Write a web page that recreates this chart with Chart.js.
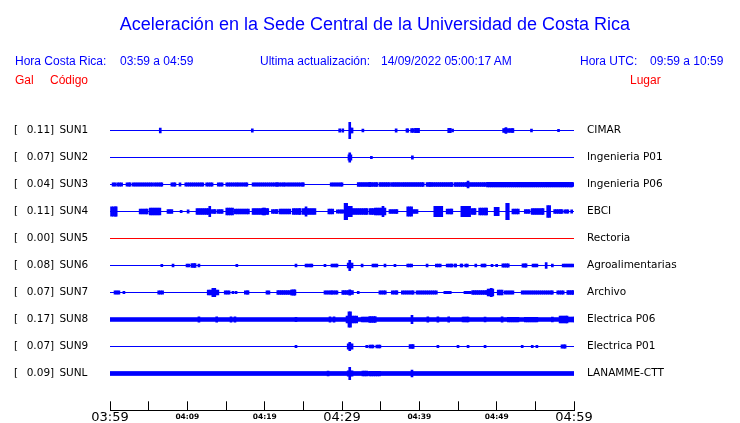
<!DOCTYPE html>
<html lang="es">
<head>
<meta charset="utf-8">
<title>Aceleración en la Sede Central</title>
<script src="https://cdn.jsdelivr.net/npm/chart.js@4"></script>
<style>
  html, body { margin: 0; background: #fff; overflow: hidden; }
  #wrap { position: relative; width: 740px; height: 423px; overflow: hidden; font-family: "Liberation Sans", Arial, sans-serif; }
  #wrap canvas { position: absolute; left: 0; top: 0; }
  .txt { position: absolute; white-space: pre; font-size: 12px; line-height: 12px; color: #0000ff; }
  .red { color: #ff0000; }
  #title { left: 0; width: 750px; text-align: center; top: 15px; font-size: 18px; line-height: 18px; }
</style>
</head>
<body>
<div id="wrap">
  <canvas id="seis" width="740" height="430"></canvas>
  <div id="title" class="txt">Aceleración en la Sede Central de la Universidad de Costa Rica</div>
  <div class="txt" style="left:15px;top:55px">Hora Costa Rica:</div>
  <div class="txt" style="left:120px;top:55px">03:59 a 04:59</div>
  <div class="txt" style="left:260px;top:55px">Ultima actualización:</div>
  <div class="txt" style="left:381px;top:55px">14/09/2022 05:00:17 AM</div>
  <div class="txt" style="left:580px;top:55px">Hora UTC:</div>
  <div class="txt" style="left:650px;top:55px">09:59 a 10:59</div>
  <div class="txt red" style="left:15px;top:74px">Gal</div>
  <div class="txt red" style="left:50px;top:74px">Código</div>
  <div class="txt red" style="left:630px;top:74px">Lugar</div>
</div>

<script>
  // stations, top to bottom
  const codes = ['SUN1', 'SUN2', 'SUN3', 'SUN4', 'SUN5', 'SUN6', 'SUN7', 'SUN8', 'SUN9', 'SUNL'];
  const gal = [0.11, 0.07, 0.04, 0.11, 0.00, 0.08, 0.07, 0.17, 0.07, 0.09];
  const places = ['CIMAR', 'Ingenieria P01', 'Ingenieria P06', 'EBCI', 'Rectoria',
    'Agroalimentarias', 'Archivo', 'Electrica P06', 'Electrica P01', 'LANAMME-CTT'];
  // steady background noise (half width, in trace spacings)
  const noise = [0, 0, 0, 0, 0, 0, 0, 0.063, 0, 0.067];
  const tickTimes = ['03:59', '04:04', '04:09', '04:14', '04:19', '04:24', '04:29',
    '04:34', '04:39', '04:44', '04:49', '04:54', '04:59'];

  // bursts: [start minute, end minute, half amplitude] (minutes after 03:59)
  const sun1 = [[6.5, 6.5, 0.09], [18.4, 18.4, 0.06], [29.7, 29.7, 0.06], [30.1, 30.2, 0.06],
    [31.0, 31.0, 0.30], [31.2, 31.3, 0.09], [32.7, 32.7, 0.05], [37.0, 37.0, 0.06],
    [38.4, 38.5, 0.06], [39.0, 39.2, 0.07], [39.5, 39.9, 0.08], [43.8, 44.0, 0.08],
    [44.3, 44.3, 0.05], [50.9, 51.1, 0.07], [51.2, 51.3, 0.11], [51.5, 52.1, 0.07],
    [54.5, 54.5, 0.05], [58.0, 58.0, 0.04]];
  const sun2 = [[30.9, 31.2, 0.10], [31.0, 31.0, 0.17], [33.8, 33.8, 0.04], [39.1, 39.1, 0.06]];
  const sun3 = [[0.4, 0.65, 0.06], [1.0, 1.55, 0.06], [2.2, 2.6, 0.06], [3.0, 5.55, 0.065],
    [5.8, 6.7, 0.065], [8.0, 8.4, 0.06], [9.05, 9.05, 0.06], [9.8, 12.0, 0.065],
    [12.5, 13.2, 0.065], [14.0, 14.6, 0.06], [15.1, 16.4, 0.065], [16.55, 17.7, 0.065],
    [18.5, 19.8, 0.065], [20.0, 21.6, 0.065], [21.7, 22.6, 0.065], [22.9, 23.7, 0.065],
    [23.9, 25.0, 0.065], [28.6, 30.0, 0.065], [32.1, 33.6, 0.07], [33.6, 34.5, 0.07],
    [34.9, 36.2, 0.07], [36.5, 37.5, 0.07], [37.8, 40.5, 0.07], [41.0, 41.4, 0.07],
    [41.6, 44.2, 0.07], [44.6, 46.2, 0.07], [46.3, 46.3, 0.13], [46.3, 48.5, 0.075],
    [48.8, 59.7, 0.085], [59.9, 60.0, 0.06]];
  const sun4 = [[0.2, 0.8, 0.17], [3.9, 4.8, 0.09], [5.2, 6.5, 0.13], [7.5, 8.1, 0.07],
    [9.2, 9.2, 0.04], [10.1, 10.1, 0.06], [11.25, 12.7, 0.11], [12.9, 13.0, 0.19],
    [13.2, 13.6, 0.07], [14.0, 14.5, 0.07], [15.1, 15.9, 0.13], [16.2, 17.9, 0.09],
    [18.5, 20.4, 0.11], [19.8, 20.0, 0.13], [21.0, 21.6, 0.07], [22.0, 23.3, 0.09],
    [23.7, 24.6, 0.11], [25.0, 26.5, 0.11], [25.35, 25.35, 0.17], [28.3, 28.8, 0.09],
    [29.4, 30.1, 0.06], [30.4, 30.6, 0.30], [30.8, 31.2, 0.19], [31.3, 33.2, 0.11],
    [33.6, 34.0, 0.11], [34.3, 35.6, 0.13], [35.3, 35.3, 0.19], [36.2, 37.1, 0.07],
    [38.5, 39.0, 0.17], [39.2, 39.8, 0.07], [42.0, 42.9, 0.19], [43.6, 44.2, 0.09],
    [45.5, 46.5, 0.19], [46.8, 47.2, 0.11], [47.8, 48.7, 0.13], [49.8, 50.2, 0.15],
    [51.3, 51.5, 0.30], [52.1, 52.8, 0.09], [53.7, 54.3, 0.07], [54.6, 56.0, 0.11],
    [56.6, 56.9, 0.22], [57.5, 58.4, 0.07], [58.8, 59.2, 0.06], [59.7, 59.7, 0.06]];
  const sun5 = [];
  const sun6 = [[6.7, 6.7, 0.04], [8.15, 8.15, 0.055], [9.96, 10.2, 0.055], [10.6, 11.0, 0.07],
    [11.5, 11.5, 0.055], [16.4, 16.4, 0.04], [24.05, 24.05, 0.055], [25.35, 25.6, 0.055],
    [25.9, 26.1, 0.055], [27.8, 27.8, 0.04], [28.7, 29.35, 0.055], [30.8, 31.3, 0.09],
    [31.0, 31.0, 0.19], [32.6, 32.6, 0.055], [34.0, 34.5, 0.055], [35.56, 35.56, 0.055],
    [36.85, 36.85, 0.04], [38.5, 39.0, 0.055], [41.0, 41.0, 0.055], [42.2, 42.7, 0.055],
    [43.6, 44.2, 0.055], [44.6, 44.7, 0.055], [45.4, 45.5, 0.055], [46.0, 46.2, 0.055],
    [47.3, 47.3, 0.055], [48.1, 48.5, 0.055], [49.4, 49.4, 0.04], [50.0, 50.0, 0.04],
    [50.8, 51.5, 0.06], [53.4, 53.8, 0.06], [54.7, 55.2, 0.055], [56.4, 56.4, 0.11],
    [57.2, 57.3, 0.055], [58.6, 59.9, 0.055]];
  const sun7 = [[0.65, 1.2, 0.06], [1.8, 1.8, 0.04], [6.3, 6.85, 0.06], [12.7, 14.0, 0.09],
    [13.3, 13.6, 0.15], [14.9, 15.4, 0.06], [15.9, 15.9, 0.04], [16.3, 16.3, 0.04],
    [17.5, 17.85, 0.06], [20.3, 20.6, 0.06], [21.7, 23.9, 0.075], [23.5, 23.9, 0.1],
    [27.8, 28.7, 0.06], [28.9, 29.35, 0.06], [30.1, 31.4, 0.07], [31.0, 31.0, 0.1],
    [32.1, 32.1, 0.04], [34.9, 35.6, 0.06], [36.5, 37.1, 0.06], [37.8, 39.2, 0.06],
    [39.7, 42.3, 0.06], [43.3, 44.0, 0.04], [45.9, 46.6, 0.04], [46.9, 48.75, 0.075],
    [48.9, 49.5, 0.13], [49.3, 49.3, 0.15], [50.2, 50.8, 0.09], [51.1, 52.1, 0.06],
    [53.3, 57.2, 0.06], [57.9, 58.6, 0.06], [59.2, 59.9, 0.075]];
  const sun8 = [[11.5, 11.5, 0.1], [13.8, 13.8, 0.1], [15.65, 15.65, 0.1], [16.16, 16.16, 0.1],
    [24.05, 24.05, 0.08], [28.45, 28.45, 0.1], [28.97, 28.97, 0.1], [30.65, 31.9, 0.13],
    [30.9, 31.1, 0.28], [32.6, 33.6, 0.09], [33.6, 34.3, 0.11], [39.05, 39.05, 0.15],
    [41.1, 41.1, 0.1], [42.4, 42.4, 0.1], [43.8, 43.8, 0.1], [45.65, 46.3, 0.09],
    [48.5, 48.5, 0.09], [50.7, 50.7, 0.1], [51.5, 52.8, 0.085], [53.7, 55.2, 0.085],
    [57.2, 57.2, 0.09], [58.2, 59.1, 0.13], [59.1, 60.0, 0.09]];
  const sun9 = [[24.05, 24.05, 0.04], [30.8, 31.3, 0.1], [31.0, 31.0, 0.15], [33.2, 33.2, 0.04],
    [33.6, 34.0, 0.05], [34.5, 34.9, 0.05], [38.8, 39.2, 0.07], [42.4, 42.4, 0.04],
    [45.0, 45.0, 0.04], [46.3, 46.3, 0.04], [48.5, 48.5, 0.04], [53.3, 53.3, 0.04],
    [54.6, 54.6, 0.04], [55.2, 55.2, 0.04], [58.45, 58.85, 0.06]];
  const sunl = [[28.2, 28.2, 0.09], [30.8, 31.3, 0.1], [31.0, 31.0, 0.23], [32.7, 33.2, 0.09],
    [33.6, 34.9, 0.085], [39.05, 39.05, 0.13]];
  const bursts = [sun1, sun2, sun3, sun4, sun5, sun6, sun7, sun8, sun9, sunl];

  // plot box runs 103..409.6 px (axis on row 409); traces 27px apart, first on row 130
  const areaTop = 103, areaBottom = 409.6, firstRow = 130.5, gap = 27;
  const topIdx = codes.length - 1;
  const BLUE = '#0000ff', RED = '#ff0000';

  const datasets = [];
  codes.forEach((code, i) => {
    const c = topIdx - i;
    const col = gal[i] === 0 ? RED : BLUE;
    const n = noise[i];
    datasets.push({
      type: 'line',
      data: [{ x: 0, y: c + n }, { x: 60, y: c + n }],
      borderColor: col, borderWidth: 1, pointRadius: 0,
      fill: n > 0 ? { value: c - n } : false,
      backgroundColor: col
    });
    if (n > 0) {
      datasets.push({
        type: 'line',
        data: [{ x: 0, y: c - n }, { x: 60, y: c - n }],
        borderColor: col, borderWidth: 1, pointRadius: 0, fill: false
      });
    }
    const bars = [];
    bursts[i].forEach(([t0, t1, a]) => {
      let prev = t0;
      for (let t = t0; t <= t1 + 1e-6; t += 0.25) {
        bars.push({ x: t, y: [c - a, c + a] });
        prev = t;
      }
      if (t1 - prev > 0.1) bars.push({ x: t1, y: [c - a, c + a] });
    });
    datasets.push({
      type: 'bar', data: bars, backgroundColor: col,
      borderWidth: 0, barThickness: 2, grouped: false
    });
  });

  const labelFont = { family: 'DejaVu Sans', size: 10.5 };
  let xAxisHeight = 14.2;
  const yMax0 = topIdx + (firstRow - areaTop) / gap;
  const yMin0 = yMax0 - (areaBottom - areaTop) / gap;

  const chart = new Chart(document.getElementById('seis'), {
    type: 'line',
    data: { datasets: datasets },
    options: {
      responsive: false,
      devicePixelRatio: 1,
      animation: false,
      layout: { padding: { left: 14, right: 0, top: areaTop, bottom: 0 } },
      plugins: { legend: { display: false }, tooltip: { enabled: false } },
      scales: {
        x: {
          type: 'linear', min: 0, max: 60, offset: false,
          afterBuildTicks: ax => { ax.ticks = tickTimes.map((_, k) => ({ value: k * 5 })); },
          afterFit: ax => { ax.height = xAxisHeight; },
          border: { display: true, color: '#000', width: 1 },
          grid: { drawOnChartArea: false, drawTicks: true, tickLength: -9, color: '#000', offset: false },
          ticks: {
            autoSkip: false, maxRotation: 0, color: '#000', padding: 8.5,
            callback: (v, k) => k % 2 === 0 ? tickTimes[k] : '',
            font: ctx => ctx.index % 6 === 0
              ? { family: 'DejaVu Sans', size: 13, lineHeight: 1.2 }
              : { family: 'DejaVu Sans', size: 7.5, weight: 'bold', lineHeight: 1.95 }
          }
        },
        y: {
          position: 'left', min: yMin0, max: yMax0,
          afterBuildTicks: ax => { ax.ticks = codes.map((_, i) => ({ value: topIdx - i })); },
          afterFit: ax => { ax.width = 96; },
          grid: { display: false, drawTicks: false }, border: { display: false },
          ticks: {
            autoSkip: false, crossAlign: 'far', color: '#000', font: labelFont,
            callback: v => {
              const i = topIdx - Math.round(v);
              return '[\u2002 ' + gal[i].toFixed(2) + ']\u2002' + codes[i];
            }
          }
        },
        y2: {
          position: 'right', min: yMin0, max: yMax0,
          afterBuildTicks: ax => { ax.ticks = codes.map((_, i) => ({ value: topIdx - i })); },
          afterFit: ax => { ax.width = 166; },
          grid: { display: false, drawTicks: false }, border: { display: false },
          ticks: {
            autoSkip: false, padding: 13, color: '#000', font: labelFont,
            callback: v => places[topIdx - Math.round(v)]
          }
        }
      }
    }
  });

  // the layout leaves a little extra room below the axis; grow the axis box until
  // the plot box ends where the time axis sits in the original
  for (let k = 0; k < 5; k++) {
    const d = chart.chartArea.bottom - areaBottom;
    if (Math.abs(d) < 0.05) break;
    xAxisHeight += d;
    chart.update();
  }

  // pin the traces to whole pixel rows using the real plot box
  const sy = chart.scales.y;
  const yMax = topIdx + (firstRow - sy.top) / gap;
  const yMin = yMax - (sy.bottom - sy.top) / gap;
  ['y', 'y2'].forEach(id => {
    chart.options.scales[id].min = yMin;
    chart.options.scales[id].max = yMax;
  });
  chart.update();
</script>
</body>
</html>
